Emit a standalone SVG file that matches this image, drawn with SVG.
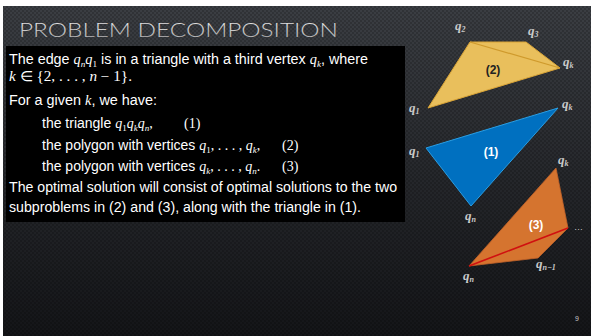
<svg xmlns="http://www.w3.org/2000/svg" width="591" height="336" viewBox="0 0 591 336">
<defs>
<linearGradient id="bg" x1="0" y1="0" x2="0" y2="1">
<stop offset="0" stop-color="#3b3e43"/>
<stop offset="0.5" stop-color="#26282c"/>
<stop offset="1" stop-color="#141518"/>
</linearGradient>
<linearGradient id="tg" x1="0" y1="0" x2="0" y2="1">
<stop offset="0" stop-color="#f0f0f0"/>
<stop offset="1" stop-color="#a8a8a8"/>
</linearGradient>
<pattern id="tex" width="4" height="4" patternUnits="userSpaceOnUse">
<rect x="0" y="0" width="2" height="2" fill="#000" opacity="0.18"/>
<rect x="2" y="2" width="2" height="2" fill="#000" opacity="0.18"/>
</pattern>
</defs>
<style>
.t{font-family:"Liberation Sans",Arial,sans-serif;font-size:14px;fill:#fff}
.m{font-family:"Liberation Serif","Times New Roman",serif;font-style:italic}
.r{font-family:"Liberation Serif","Times New Roman",serif}
.sb{font-family:"Liberation Serif","Times New Roman",serif;font-size:9px}
.si{font-family:"Liberation Serif","Times New Roman",serif;font-size:9px;font-style:italic}
.v{font-family:"Liberation Serif","Times New Roman",serif;font-style:italic;font-weight:bold;font-size:13px;fill:#c9c9c9}
.vs{font-size:8px}
.lab{font-family:"Liberation Sans",Arial,sans-serif;font-weight:bold;font-size:12px;text-anchor:middle}
</style>
<rect width="591" height="336" fill="#fff"/>
<rect x="3" y="6" width="588" height="330" fill="url(#bg)"/>
<rect x="3" y="6" width="588" height="330" fill="url(#tex)"/>
<text x="19" y="37" textLength="319" lengthAdjust="spacingAndGlyphs" style="font-family:Lato,'Open Sans','Liberation Sans',sans-serif;font-weight:300;font-size:20px" fill="url(#tg)">PROBLEM DECOMPOSITION</text>
<g id="textbox">
<rect x="6" y="46" width="399" height="176" fill="#000"/>
<text class="t" x="9" y="64" textLength="359" lengthAdjust="spacingAndGlyphs">The edge <tspan class="m">q</tspan><tspan class="si" dy="3">n</tspan><tspan class="m" dy="-3">q</tspan><tspan class="sb" dy="3">1</tspan><tspan dy="-3"> is in a triangle with a third vertex </tspan><tspan class="m">q</tspan><tspan class="si" dy="3">k</tspan><tspan dy="-3">, where</tspan></text>
<text class="t r" x="9" y="81" textLength="123" lengthAdjust="spacingAndGlyphs"><tspan class="m">k</tspan> ∈ {2, . . . , <tspan class="m">n</tspan> − 1}.</text>
<text class="t" x="9" y="105" textLength="148" lengthAdjust="spacingAndGlyphs">For a given <tspan class="m">k</tspan>, we have:</text>
<text class="t" x="42" y="128">the triangle <tspan class="m">q</tspan><tspan class="sb" dy="3">1</tspan><tspan class="m" dy="-3">q</tspan><tspan class="si" dy="3">k</tspan><tspan class="m" dy="-3">q</tspan><tspan class="si" dy="3">n</tspan><tspan class="r" dy="-3">,</tspan></text>
<text class="t r" x="184" y="128">(1)</text>
<text class="t" x="42" y="150">the polygon with vertices <tspan class="m">q</tspan><tspan class="sb" dy="3">1</tspan><tspan class="r" dy="-3">, . . . , </tspan><tspan class="m">q</tspan><tspan class="si" dy="3">k</tspan><tspan class="r" dy="-3">,</tspan></text>
<text class="t r" x="282" y="150">(2)</text>
<text class="t" x="42" y="171">the polygon with vertices <tspan class="m">q</tspan><tspan class="si" dy="3">k</tspan><tspan class="r" dy="-3">, . . . , </tspan><tspan class="m">q</tspan><tspan class="si" dy="3">n</tspan><tspan class="r" dy="-3">.</tspan></text>
<text class="t r" x="282" y="171">(3)</text>
<text class="t" x="9" y="192" textLength="388" lengthAdjust="spacingAndGlyphs">The optimal solution will consist of optimal solutions to the two</text>
<text class="t" x="9" y="212" textLength="352" lengthAdjust="spacingAndGlyphs">subproblems in (2) and (3), along with the triangle in (1).</text>
</g>
<g id="poly2">
<polygon points="470,42 526,42 560,68 428,108" fill="#e9bf5c" stroke="#d9a437" stroke-width="1"/>
<line x1="470" y1="42" x2="560" y2="68" stroke="#cf9a2c" stroke-width="1.2"/>
<text class="lab" x="493" y="74" fill="#222">(2)</text>
<text class="v" x="455" y="30">q<tspan class="vs" dy="2">2</tspan></text>
<text class="v" x="528" y="35">q<tspan class="vs" dy="2">3</tspan></text>
<text class="v" x="563" y="66">q<tspan class="vs" dy="2">k</tspan></text>
<text class="v" x="409" y="112">q<tspan class="vs" dy="2">1</tspan></text>
</g>
<g id="tri1">
<polygon points="426,148 558,108 471,206" fill="#0070c0" stroke="#2a9ee3" stroke-width="1"/>
<text class="lab" x="491" y="156" fill="#fff">(1)</text>
<text class="v" x="409" y="155">q<tspan class="vs" dy="2">1</tspan></text>
<text class="v" x="562" y="108">q<tspan class="vs" dy="2">k</tspan></text>
<text class="v" x="465" y="220">q<tspan class="vs" dy="2">n</tspan></text>
</g>
<g id="poly3">
<polygon points="556,168 568,228 538,258 469,266" fill="#d5742f" stroke="#c0622a" stroke-width="0.8"/>
<line x1="469" y1="266" x2="568" y2="228" stroke="#d01010" stroke-width="1.6"/>
<text class="lab" x="536" y="229" fill="#fff">(3)</text>
<text class="v" x="558" y="164">q<tspan class="vs" dy="2">k</tspan></text>
<text class="v" x="536" y="268">q<tspan class="vs" dy="2">n−1</tspan></text>
<text class="v" x="463" y="280">q<tspan class="vs" dy="2">n</tspan></text>
<text x="574" y="230" style="font-family:'Liberation Sans',sans-serif;font-size:9px" fill="#c9c9c9">…</text>
</g>
<text x="575" y="321" style="font-family:'Liberation Sans',sans-serif;font-size:7px" fill="#c9c9c9">9</text>
</svg>
